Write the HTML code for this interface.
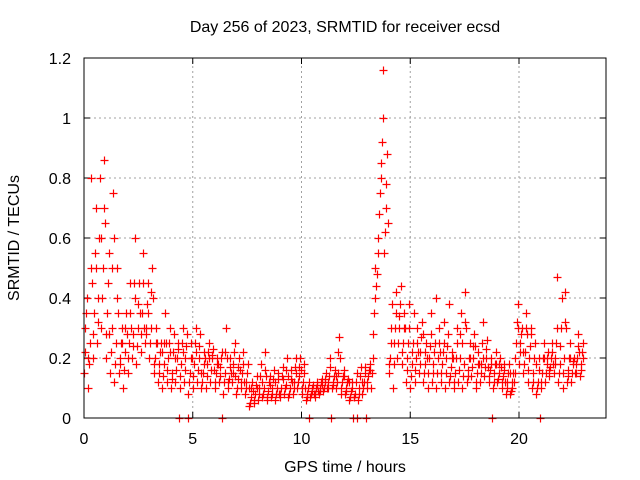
<!DOCTYPE html>
<html><head><meta charset="utf-8"><style>
body{margin:0;background:#fff}
svg{display:block;font-family:"Liberation Sans",sans-serif}
</style></head><body>
<svg id="chart" width="640" height="480">
<text x="345" y="32" text-anchor="middle" font-size="16">Day 256 of 2023, SRMTID for receiver ecsd</text>
<text x="345" y="472" text-anchor="middle" font-size="16">GPS time / hours</text>
<text transform="translate(19,238) rotate(-90)" text-anchor="middle" font-size="16">SRMTID / TECUs</text>
<g id="grid"></g>
<g id="ticks"></g>
<g id="marks"></g>
<rect x="84" y="58" width="522" height="360" fill="none" stroke="#000" stroke-width="1"/>
</svg>
<script>
const xTicks=[0,5,10,15,20];
const yTicks=[0,0.2,0.4,0.6,0.8,1,1.2];
const yTickLabels=["0","0.2","0.4","0.6","0.8","1","1.2"];
const tStart=0, tStep=0.2;
const s1=[0.15,0.1,0.2,0.25,0.3,0.2,0.15,0.12,0.15,0.1,0.15,0.2,0.18,0.22,0.25,0.2,0.15,0.12,0.1,0.12,0.1,0.12,0.1,0.12,0.08,0.1,0.12,0.1,0.1,0.12,0.1,0.12,0.08,0.1,0.12,0.08,0.1,0.08,0.04,0.05,0.06,0.07,0.06,0.07,0.06,0.07,0.08,0.07,0.08,0.1,0.08,0.06,0.07,0.07,0.08,0.09,0.1,0.1,0.1,0.08,0.08,0.06,0.07,0.06,0.08,0.1,0.1,0.4,0.75,0.55,0.15,0.1,0.2,0.18,0.12,0.1,0.12,0.15,0.12,0.1,0.12,0.1,0.12,0.1,0.12,0.1,0.12,0.1,0.12,0.14,0.1,0.12,0.14,0.12,0.1,0.12,0.1,0.08,0.08,0.15,0.18,0.15,0.12,0.1,0.08,0.1,0.12,0.14,0.15,0.12,0.1,0.12,0.12,0.15,0.14];
const s2=[0.3,0.25,0.35,0.4,0.5,0.35,0.3,0.25,0.2,0.22,0.25,0.28,0.3,0.35,0.3,0.3,0.2,0.18,0.18,0.2,0.15,0.2,0.18,0.2,0.15,0.18,0.2,0.15,0.18,0.2,0.15,0.17,0.15,0.13,0.18,0.13,0.15,0.12,0.07,0.08,0.1,0.1,0.09,0.1,0.1,0.1,0.11,0.1,0.12,0.14,0.12,0.08,0.09,0.1,0.1,0.12,0.14,0.12,0.15,0.12,0.1,0.09,0.08,0.1,0.12,0.14,0.2,0.48,0.85,0.7,0.2,0.25,0.3,0.25,0.2,0.18,0.2,0.22,0.18,0.2,0.18,0.2,0.18,0.2,0.17,0.15,0.2,0.18,0.16,0.2,0.15,0.18,0.2,0.16,0.15,0.15,0.14,0.12,0.1,0.25,0.25,0.22,0.2,0.15,0.12,0.15,0.18,0.2,0.2,0.18,0.2,0.16,0.18,0.2,0.18];
const s3=[0.4,0.8,0.7,0.8,0.86,0.55,0.75,0.5,0.3,0.35,0.45,0.6,0.45,0.55,0.45,0.5,0.3,0.25,0.35,0.3,0.28,0.25,0.3,0.28,0.25,0.3,0.28,0.22,0.25,0.23,0.2,0.22,0.3,0.2,0.25,0.2,0.22,0.18,0.12,0.14,0.18,0.22,0.14,0.16,0.15,0.17,0.2,0.16,0.2,0.2,0.18,0.12,0.11,0.12,0.13,0.15,0.2,0.16,0.27,0.16,0.13,0.12,0.15,0.17,0.17,0.18,0.35,0.6,1.0,0.88,0.3,0.35,0.38,0.35,0.3,0.25,0.3,0.32,0.25,0.28,0.25,0.3,0.25,0.28,0.22,0.25,0.35,0.42,0.25,0.28,0.22,0.32,0.26,0.2,0.22,0.2,0.18,0.18,0.15,0.38,0.3,0.35,0.28,0.25,0.2,0.25,0.22,0.25,0.3,0.3,0.42,0.25,0.2,0.28,0.25];
const s4=[0.2,0.45,0.5,0.6,0.65,0.28,0.6,0.35,0.25,0.28,0.3,0.4,0.35,0.3,0.35,0.4,0.25,0.22,0.25,0.22,0.2,0,0.22,0,0.2,0.22,0.15,0.2,0.2,0.16,0.18,0,0.2,0.15,0.14,0.16,0.12,0.1,0.09,0.1,0.12,0.14,0.11,0.12,0.08,0.13,0.14,0.12,0.15,0.16,0.1,0,0.08,0.09,0.11,0.1,0,0.14,0.2,0.14,0.12,0,0,0.12,0,0.16,0.5,0.68,1.16,0.65,0.38,0.42,0.44,0.3,0.38,0.35,0.22,0.28,0.2,0.35,0.4,0.22,0.32,0.38,0.2,0.3,0.25,0.3,0.2,0.24,0.18,0.2,0.17,0,0.18,0.17,0.12,0.15,0.12,0.3,0.22,0.28,0.3,0.18,0,0.2,0.16,0.18,0.47,0.4,0.3,0.2,0.15,0.22,0.2];
const s5=[0.35,0.5,0.55,0.6,0.7,0.45,0.5,0.4,0.25,0.3,0.35,0.45,0.38,0.45,0.38,0.42,0.25,0.22,0.25,0.25,0.22,0.23,0.25,0.24,0.2,0.25,0.24,0.18,0.22,0.21,0.18,0.2,0.22,0.17,0.22,0.17,0.18,0.15,0.1,0.11,0.14,0.16,0.12,0.13,0.13,0.14,0.16,0.13,0.17,0.17,0.15,0.1,0.1,0.11,0.12,0.13,0.17,0.14,0.22,0.14,0.12,0.1,0.12,0.14,0.15,0.16,0.28,0.55,0.92,0.78,0.25,0.3,0.34,0.3,0.25,0.22,0.25,0.27,0.22,0.24,0.22,0.25,0.22,0.24,0.2,0.2,0.28,0.32,0.2,0.24,0.18,0.25,0.23,0.18,0.18,0.18,0.16,0.15,0.12,0.32,0.28,0.3,0.24,0.2,0.16,0.2,0.2,0.22,0.25,0.24,0.32,0.2,0.19,0.24,0.22];
const s6=[0.22,0.18,0.28,0.32,0.4,0.28,0.22,0.18,0.18,0.16,0.2,0.24,0.24,0.28,0.28,0.25,0.18,0.15,0.14,0.16,0.13,0.16,0.14,0.16,0.12,0.14,0.16,0.12,0.14,0.16,0.12,0.14,0.12,0.12,0.15,0.1,0.12,0.1,0.05,0.06,0.08,0.08,0.07,0.08,0.08,0.08,0.1,0.08,0.1,0.12,0.1,0.07,0.08,0.08,0.09,0.1,0.12,0.11,0.12,0.1,0.09,0.07,0.07,0.08,0.1,0.12,0.15,0.44,0.8,0.62,0.18,0.18,0.25,0.22,0.16,0.14,0.16,0.18,0.15,0.15,0.15,0.15,0.15,0.15,0.14,0.12,0.16,0.14,0.14,0.17,0.12,0.15,0.17,0.14,0.12,0.13,0.12,0.1,0.09,0.2,0.22,0.18,0.16,0.12,0.1,0.12,0.15,0.17,0.18,0.15,0.15,0.14,0.15,0.18,0.16];
const series=[s1,s6,s2,s5,s3,s4];
const NS="http://www.w3.org/2000/svg";
const X0=84,X1=606,Y0=418,Y1=58,XMAX=24,YMAX=1.2;
function xs(v){return X0+(X1-X0)*v/XMAX;}
function ys(v){return Y0-(Y0-Y1)*v/YMAX;}
function mk(tag,attrs,parent){const e=document.createElementNS(NS,tag);for(const k in attrs)e.setAttribute(k,attrs[k]);parent.appendChild(e);return e;}
const grid=document.getElementById('grid'),ticks=document.getElementById('ticks'),marks=document.getElementById('marks');
xTicks.forEach(v=>{
  const x=xs(v);
  if(v>0){const g=mk('line',{x1:x,y1:Y0,x2:x,y2:Y1,stroke:'#a0a0a0','stroke-dasharray':'2,3'},grid);
  
  }
  mk('line',{x1:x,y1:Y0,x2:x,y2:Y0-6,stroke:'#000'},ticks);
  mk('line',{x1:x,y1:Y1,x2:x,y2:Y1+6,stroke:'#000'},ticks);
  const t=mk('text',{x:x,y:444,'text-anchor':'middle','font-size':16},ticks);
  t.textContent=String(v);
  
  
});
yTicks.forEach((v,i)=>{
  const y=ys(v);
  if(i>0&&i<yTicks.length-1){const g=mk('line',{x1:X0,y1:y,x2:X1,y2:y,stroke:'#a0a0a0','stroke-dasharray':'2,3'},grid);
  
  }
  mk('line',{x1:X0,y1:y,x2:X0+6,y2:y,stroke:'#000'},ticks);
  mk('line',{x1:X1,y1:y,x2:X1-6,y2:y,stroke:'#000'},ticks);
  const t=mk('text',{x:71,y:y+6,'text-anchor':'end','font-size':16},ticks);
  t.textContent=yTickLabels[i];
  
  
});
series.forEach((arr,k)=>{
  arr.forEach((v,i)=>{
    const t=tStart+i*tStep+k*0.033;
    const cx=Math.round(xs(t))+0.5,cy=Math.round(ys(v))+0.5;
    const p=mk('path',{d:`M${cx-4},${cy}h8M${cx},${cy-4}v8`,stroke:'#ff0000','stroke-width':1.2,fill:'none'},marks);
    
    
  });
});
</script>
</body></html>
